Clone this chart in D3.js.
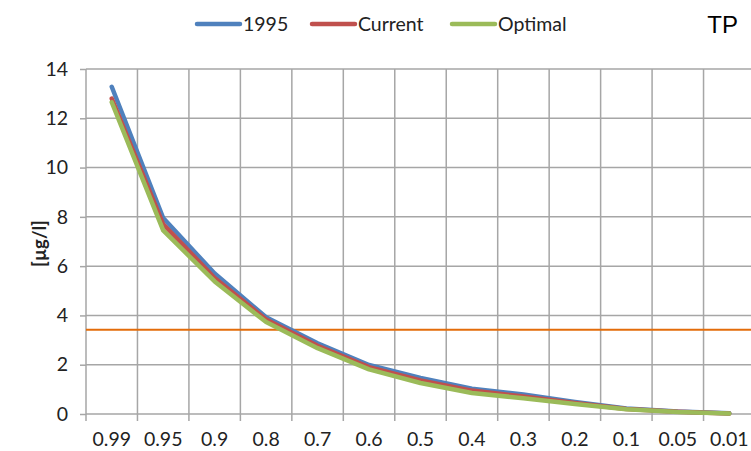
<!DOCTYPE html>
<html>
<head>
<meta charset="utf-8">
<script src="https://cdn.jsdelivr.net/npm/d3@7"></script>
<style>
  body { margin: 0; background: #fff; }
  svg { display: block; }
</style>
</head>
<body>
<div id="chart"></div>
<script>
const categories = ["0.99", "0.95", "0.9", "0.8", "0.7", "0.6", "0.5", "0.4", "0.3", "0.2", "0.1", "0.05", "0.01"];
const values1995 = [13.28, 7.95, 5.7, 3.93, 2.87, 1.99, 1.46, 1.03, 0.79, 0.49, 0.22, 0.1, 0.03];
const valuesCurrent = [12.8, 7.7, 5.52, 3.83, 2.77, 1.9, 1.36, 0.95, 0.71, 0.45, 0.2, 0.09, 0.02];
const valuesOptimal = [12.65, 7.45, 5.38, 3.73, 2.67, 1.81, 1.26, 0.85, 0.64, 0.41, 0.19, 0.08, 0.02];
const yTicks = [0, 2, 4, 6, 8, 10, 12, 14];
const thresholdValue = 3.42;

const series = [
  {name: "1995", color: "#4F81BD", values: values1995},
  {name: "Current", color: "#C0504D", values: valuesCurrent},
  {name: "Optimal", color: "#9BBB59", values: valuesOptimal}
];

const width = 751, height = 451;
const margin = {top: 69, right: -4, bottom: 37, left: 86};

const svg = d3.select("#chart").append("svg")
  .attr("width", width)
  .attr("height", height);

const x = d3.scaleBand()
  .domain(categories)
  .range([margin.left, width - margin.right])
  .padding(0);

const y = d3.scaleLinear()
  .domain([0, 14])
  .range([height - margin.bottom, margin.top]);

const gridColor = "#A6A6A6";
const fontFam = "Lato, 'Open Sans', sans-serif";

// horizontal grid + y axis
const axisY = svg.append("g")
  .attr("transform", `translate(${margin.left},0)`)
  .call(d3.axisLeft(y).tickValues(yTicks).tickSize(6).tickPadding(12));
axisY.select(".domain").remove();
axisY.selectAll(".tick line").attr("stroke", gridColor).attr("stroke-width", 1.5);
axisY.selectAll(".tick text")
  .attr("font-family", fontFam)
  .attr("font-size", 19.5)
  .attr("fill", "#222");

svg.append("g").selectAll("line")
  .data(yTicks)
  .join("line")
  .attr("x1", margin.left)
  .attr("x2", width)
  .attr("y1", d => y(d))
  .attr("y2", d => y(d))
  .attr("stroke", gridColor)
  .attr("stroke-width", 1.5);

// vertical grid at category boundaries
const bounds = categories.map(c => x(c));
svg.append("g").selectAll("line")
  .data(bounds)
  .join("line")
  .attr("x1", d => d)
  .attr("x2", d => d)
  .attr("y1", y(14))
  .attr("y2", y(0) + 7)
  .attr("stroke", gridColor)
  .attr("stroke-width", 1.5);

// x axis labels
const axisX = svg.append("g")
  .attr("transform", `translate(0,${y(0)})`)
  .call(d3.axisBottom(x).tickSize(0).tickPadding(18));
axisX.select(".domain").remove();
axisX.selectAll(".tick text")
  .attr("font-family", fontFam)
  .attr("font-size", 19.5)
  .attr("fill", "#222");

// threshold line
svg.append("line")
  .attr("x1", margin.left)
  .attr("x2", width)
  .attr("y1", y(thresholdValue))
  .attr("y2", y(thresholdValue))
  .attr("stroke", "#E36C0A")
  .attr("stroke-width", 2);

// series lines
const line = d3.line()
  .x((d, i) => x(categories[i]) + x.bandwidth() / 2)
  .y(d => y(d));

svg.append("g").selectAll("path")
  .data(series)
  .join("path")
  .attr("d", d => line(d.values))
  .attr("fill", "none")
  .attr("stroke", d => d.color)
  .attr("stroke-width", 4.5)
  .attr("stroke-linejoin", "round")
  .attr("stroke-linecap", "round");

// y axis title
svg.append("text")
  .attr("transform", `translate(46,${(y(0) + y(14)) / 2 + 2}) rotate(-90)`)
  .attr("text-anchor", "middle")
  .attr("font-family", fontFam)
  .attr("font-size", 18.5)
  .attr("font-weight", "bold")
  .attr("fill", "#222")
  .text("[µg/l]");

// legend
const legendX = [197, 312, 452];
const legend = svg.append("g").selectAll("g")
  .data(series)
  .join("g")
  .attr("transform", (d, i) => `translate(${legendX[i]},24)`);
legend.append("line")
  .attr("x1", 0).attr("x2", 43)
  .attr("y1", 0).attr("y2", 0)
  .attr("stroke", d => d.color)
  .attr("stroke-width", 4.5)
  .attr("stroke-linecap", "round");
legend.append("text")
  .attr("x", 46)
  .attr("y", 7)
  .attr("font-family", fontFam)
  .attr("font-size", 19.5)
  .attr("fill", "#222")
  .text(d => d.name);

// TP label
svg.append("text")
  .attr("x", 738)
  .attr("y", 33)
  .attr("text-anchor", "end")
  .attr("font-family", "'Liberation Sans', Arial, sans-serif")
  .attr("font-size", 24)
  .attr("fill", "#000")
  .text("TP");
</script>
</body>
</html>
